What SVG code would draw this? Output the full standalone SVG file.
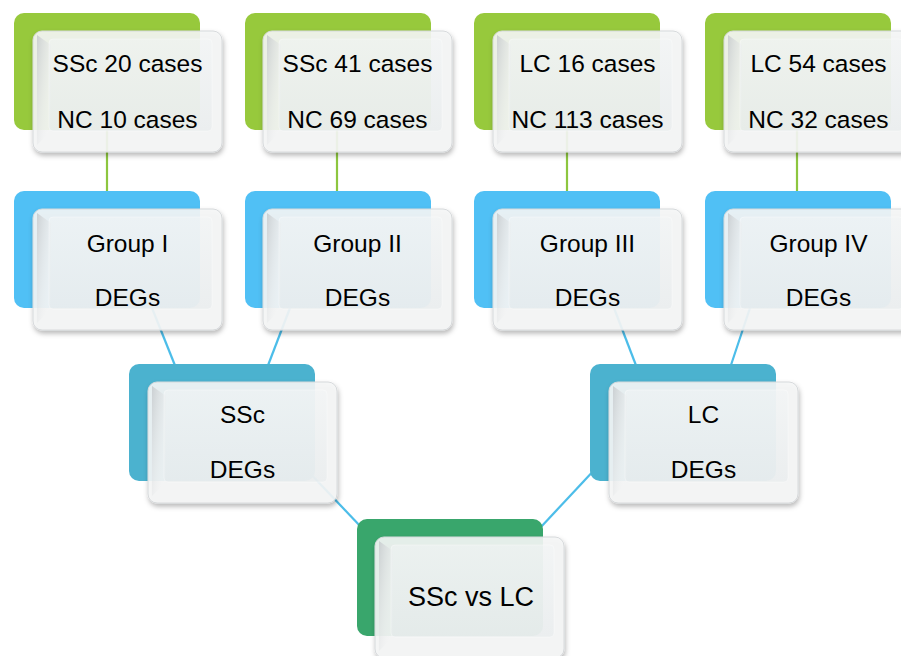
<svg xmlns="http://www.w3.org/2000/svg" width="901" height="656" viewBox="0 0 901 656">
  <defs>
    <filter id="shadow" x="-10%" y="-10%" width="125%" height="130%">
      <feDropShadow dx="1" dy="3" stdDeviation="2.5" flood-color="#000" flood-opacity="0.3"/>
    </filter>
    <linearGradient id="face" x1="0" y1="0" x2="0" y2="1">
      <stop offset="0" stop-color="#f2f5f6"/>
      <stop offset="1" stop-color="#e3e8ea"/>
    </linearGradient>
    <linearGradient id="bevelTL" x1="0" y1="0" x2="1" y2="1">
      <stop offset="0" stop-color="#c4c8cb" stop-opacity="0.8"/>
      <stop offset="1" stop-color="#ffffff" stop-opacity="0"/>
    </linearGradient>
    <style>
      .back { stroke: none; }
      .c1 { fill: #97c93c; }
      .c2 { fill: #50c0f5; }
      .c3 { fill: #4bb2cf; }
      .c4 { fill: #39a66c; }
      .card { fill: #f5f6f6; fill-opacity: 0.9; stroke: #d6d9db; stroke-width: 1; }
      .inner { fill: url(#face); fill-opacity: 0.5; stroke: #ffffff; stroke-opacity: 0.35; stroke-width: 1; }
      .tl { fill: url(#bevelTL); }
      .lbl { font-family: "Liberation Sans", Arial, sans-serif; font-size: 24.5px; fill: #000; text-anchor: middle; }
      .big { font-size: 27px; }
      .lg { stroke: #8dc63f; stroke-width: 2.2; fill: none; }
      .lb { stroke: #4cbde9; stroke-width: 2.2; fill: none; }
    </style>
    <!-- front card, 189 x 121, with bevelled face -->
    <g id="card">
      <rect class="card" x="0" y="0" width="189" height="121" rx="9" filter="url(#shadow)"/>
      <path class="tl" d="M4 4 L18 14 L18 100 L4 114 Z"/>
      <rect class="inner" x="16" y="8" width="163" height="92" rx="4"/>
    </g>
  </defs>

  <rect width="901" height="656" fill="#ffffff"/>

  <!-- connectors -->
  <g id="connectors">
    <line class="lg" x1="107" y1="120" x2="107" y2="196"/>
    <line class="lg" x1="337" y1="120" x2="337" y2="196"/>
    <line class="lg" x1="567" y1="120" x2="567" y2="196"/>
    <line class="lg" x1="797" y1="120" x2="797" y2="196"/>
    <line class="lb" x1="152" y1="308" x2="176" y2="368"/>
    <line class="lb" x1="290" y1="308" x2="267" y2="368"/>
    <line class="lb" x1="614" y1="308" x2="637" y2="368"/>
    <line class="lb" x1="750" y1="308" x2="730" y2="368"/>
    <line class="lb" x1="305" y1="468" x2="362" y2="528"/>
    <line class="lb" x1="540" y1="528" x2="598" y2="466"/>
  </g>

  <!-- row 1: cohorts -->
  <g id="cohort-ssc-1">
    <rect class="back c1" x="14" y="13" width="186" height="117" rx="10"/>
    <use href="#card" x="33" y="31"/>
    <text class="lbl" x="127.5" y="72">SSc 20 cases</text>
    <text class="lbl" x="127.5" y="128">NC 10 cases</text>
  </g>
  <g id="cohort-ssc-2">
    <rect class="back c1" x="245" y="13" width="186" height="117" rx="10"/>
    <use href="#card" x="263" y="31"/>
    <text class="lbl" x="357.5" y="72">SSc 41 cases</text>
    <text class="lbl" x="357.5" y="128">NC 69 cases</text>
  </g>
  <g id="cohort-lc-1">
    <rect class="back c1" x="474" y="13" width="186" height="117" rx="10"/>
    <use href="#card" x="493" y="31"/>
    <text class="lbl" x="587.5" y="72">LC 16 cases</text>
    <text class="lbl" x="587.5" y="128">NC 113 cases</text>
  </g>
  <g id="cohort-lc-2">
    <rect class="back c1" x="705" y="13" width="186" height="117" rx="10"/>
    <use href="#card" x="724" y="31"/>
    <text class="lbl" x="818.5" y="72">LC 54 cases</text>
    <text class="lbl" x="818.5" y="128">NC 32 cases</text>
  </g>

  <!-- row 2: group DEGs -->
  <g id="group-1">
    <rect class="back c2" x="14" y="191" width="186" height="117" rx="10"/>
    <use href="#card" x="33" y="209"/>
    <text class="lbl" x="127.5" y="252">Group I</text>
    <text class="lbl" x="127.5" y="306">DEGs</text>
  </g>
  <g id="group-2">
    <rect class="back c2" x="245" y="191" width="186" height="117" rx="10"/>
    <use href="#card" x="263" y="209"/>
    <text class="lbl" x="357.5" y="252">Group II</text>
    <text class="lbl" x="357.5" y="306">DEGs</text>
  </g>
  <g id="group-3">
    <rect class="back c2" x="474" y="191" width="186" height="117" rx="10"/>
    <use href="#card" x="493" y="209"/>
    <text class="lbl" x="587.5" y="252">Group III</text>
    <text class="lbl" x="587.5" y="306">DEGs</text>
  </g>
  <g id="group-4">
    <rect class="back c2" x="705" y="191" width="186" height="117" rx="10"/>
    <use href="#card" x="724" y="209"/>
    <text class="lbl" x="818.5" y="252">Group IV</text>
    <text class="lbl" x="818.5" y="306">DEGs</text>
  </g>

  <!-- row 3: disease DEGs -->
  <g id="ssc-degs">
    <rect class="back c3" x="129" y="364" width="186" height="117" rx="10"/>
    <use href="#card" x="148" y="382"/>
    <text class="lbl" x="242.5" y="423">SSc</text>
    <text class="lbl" x="242.5" y="478">DEGs</text>
  </g>
  <g id="lc-degs">
    <rect class="back c3" x="590" y="364" width="186" height="117" rx="10"/>
    <use href="#card" x="609" y="382"/>
    <text class="lbl" x="703.5" y="423">LC</text>
    <text class="lbl" x="703.5" y="478">DEGs</text>
  </g>

  <!-- row 4: comparison -->
  <g id="ssc-vs-lc">
    <rect class="back c4" x="357" y="519" width="186" height="117" rx="10"/>
    <use href="#card" x="375" y="537"/>
    <text class="lbl big" x="471" y="606">SSc vs LC</text>
  </g>
</svg>
